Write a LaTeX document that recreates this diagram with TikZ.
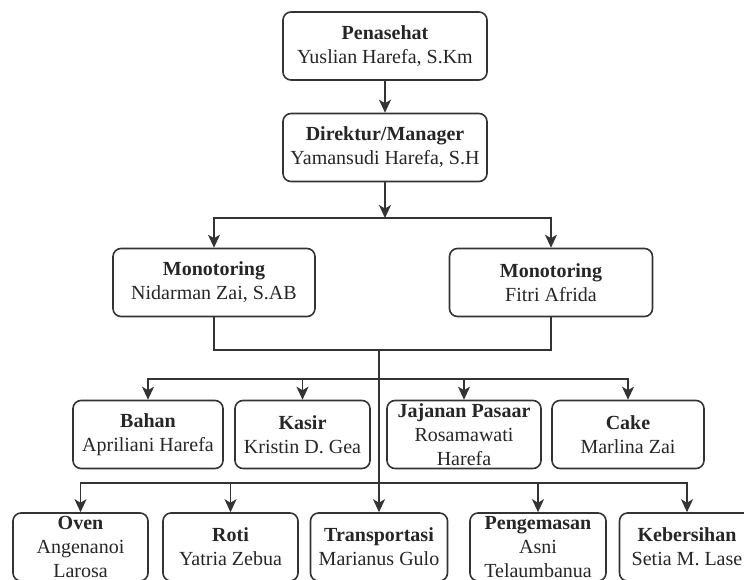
\documentclass[tikz,border=0pt]{standalone}
\usepackage{fontspec}
\setmainfont{Liberation Serif}
\usetikzlibrary{arrows.meta}
\definecolor{linegray}{HTML}{333333}
\begin{document}
\begin{tikzpicture}[x=1pt,y=-1pt,
  line width=1.6pt,draw=linegray,
  box node/.style={rectangle,rounded corners=8pt,draw=linegray,align=center,
    font=\fontsize{20}{24}\selectfont,text=black!85,inner sep=1pt,
    minimum height=68pt},
  arr/.style={-{Stealth[length=13pt,width=12pt,inset=3.5pt]}}]

  \useasboundingbox (0,0) rectangle (744,579);
  \clip (0,0) rectangle (744,579);

  \node[box node,minimum width=204pt] (pen) at (385,46) {\textbf{Penasehat}\\Yuslian Harefa, S.Km};
  \node[box node,minimum width=204pt] (dir) at (385,147.5) {\textbf{Direktur/Manager}\\Yamansudi Harefa, S.H};

  \node[box node,minimum width=202pt] (mon1) at (214,282.5) {\textbf{Monotoring}\\Nidarman Zai, S.AB};
  \node[box node,minimum width=203pt] (mon2) at (551,282.5) {\textbf{Monotoring}\\Fitri Afrida};

  \node[box node,minimum width=150pt] (bahan) at (148,434.5) {\textbf{Bahan}\\Apriliani Harefa};
  \node[box node,minimum width=135pt] (kasir) at (302.5,434.5) {\textbf{Kasir}\\Kristin D. Gea};
  \node[box node,minimum width=154pt] (jajanan) at (464,434.5) {\textbf{Jajanan Pasaar}\\Rosamawati\\Harefa};
  \node[box node,minimum width=152pt] (cake) at (628,434.5) {\textbf{Cake}\\Marlina Zai};

  \node[box node,minimum width=135pt] (oven) at (80.5,547) {\textbf{Oven}\\Angenanoi\\Larosa};
  \node[box node,minimum width=135pt] (roti) at (230.5,547) {\textbf{Roti}\\Yatria Zebua};
  \node[box node,minimum width=137pt] (trans) at (379,547) {\textbf{Transportasi}\\Marianus Gulo};
  \node[box node,minimum width=136pt] (kemas) at (538,547) {\textbf{Pengemasan}\\Asni\\Telaumbanua};
  \node[box node,minimum width=135pt] (bersih) at (687,547) {\textbf{Kebersihan}\\Setia M. Lase};

  \coordinate (bus1) at (385,218);
  \coordinate (bus2) at (379,350);
  \coordinate (bus3) at (379,379);
  \coordinate (bus4) at (379,483);

  \draw[arr] (pen) -- (dir);
  \draw[arr] (dir) -- (bus1);
  \draw[arr] (bus1) -| (mon1);
  \draw[arr] (bus1) -| (mon2);

  \draw (mon1) |- (bus2) -| (mon2);
  \draw[arr] (bus2) -- (trans);

  \draw[arr] (bus3) -| (bahan);
  \draw[arr] (bus3) -| (kasir);
  \draw[arr] (bus3) -| (jajanan);
  \draw[arr] (bus3) -| (cake);

  \draw[arr] (bus4) -| (oven);
  \draw[arr] (bus4) -| (roti);
  \draw[arr] (bus4) -| (kemas);
  \draw[arr] (bus4) -| (bersih);
\end{tikzpicture}
\end{document}
